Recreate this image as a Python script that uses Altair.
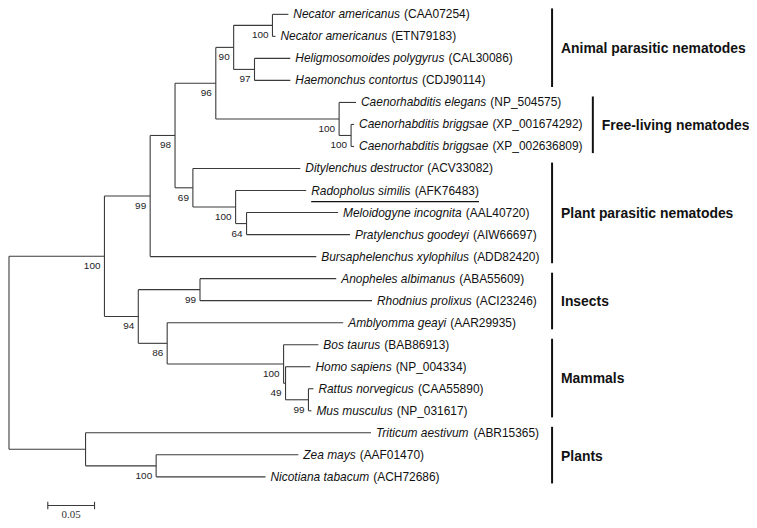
import altair as alt
import pandas as pd

# ---------------- data ----------------
# internal nodes of the tree (name, parent, branch length, bootstrap support)
node_name = ["root", "A", "S", "B", "C", "D", "E", "F", "G", "H", "I",
             "J", "K", "L", "M", "N", "O", "P", "Q", "R", "T"]
node_parent = [None, "root", "root", "A", "A", "B", "D", "D", "E", "E", "G",
               "G", "H", "F", "L", "C", "C", "O", "P", "Q", "S"]
node_length = [0.0, 0.1106, 0.0904, 0.0489, 0.0362, 0.0266, 0.0436, 0.0191,
               0.0191, 0.1319, 0.0415, 0.0223, 0.0128, 0.0457, 0.0117, 0.0660,
               0.0309, 0.1245, 0.0021, 0.0245, 0.0755]
node_support = [None, 100, None, 99, 94, 98, 96, 69, 90, 100, 100,
                97, 100, 100, 64, 99, 86, 100, 49, 99, 100]

# leaves, top to bottom
leaf_species = ["Necator americanus", "Necator americanus", "Heligmosomoides polygyrus",
                "Haemonchus contortus", "Caenorhabditis elegans", "Caenorhabditis briggsae",
                "Caenorhabditis briggsae", "Ditylenchus destructor", "Radopholus similis",
                "Meloidogyne incognita", "Pratylenchus goodeyi", "Bursaphelenchus xylophilus",
                "Anopheles albimanus", "Rhodnius prolixus", "Amblyomma geayi", "Bos taurus",
                "Homo sapiens", "Rattus norvegicus", "Mus musculus", "Triticum aestivum",
                "Zea mays", "Nicotiana tabacum"]
leaf_accession = ["CAA07254", "ETN79183", "CAL30086", "CDJ90114", "NP_504575",
                  "XP_001674292", "XP_002636809", "ACV33082", "AFK76483", "AAL40720",
                  "AIW66697", "ADD82420", "ABA55609", "ACI23246", "AAR29935", "BAB86913",
                  "NP_004334", "CAA55890", "NP_031617", "ABR15365", "AAF01470", "ACH72686"]
leaf_parent = ["I", "I", "J", "J", "H", "K", "K", "F", "L", "M", "M", "B",
               "N", "N", "O", "P", "Q", "R", "R", "S", "T", "T"]
leaf_length = [0.0170, 0.0032, 0.0383, 0.0383, 0.0181, 0.0032, 0.0032, 0.1149,
               0.0755, 0.0979, 0.1106, 0.1777, 0.1457, 0.1840, 0.1883, 0.0372,
               0.0266, 0.0053, 0.0032, 0.3053, 0.1521, 0.1170]
underlined = ["AFK76483"]

group_names = ["Animal parasitic nematodes", "Free-living nematodes",
               "Plant parasitic nematodes", "Insects", "Mammals", "Plants"]
group_first = [0, 4, 7, 12, 15, 19]
group_last = [3, 6, 11, 14, 18, 21]

scale_bar_value = 0.05

# ---------------- layout helpers ----------------
W, H = 745, 512
PXU = 940.0                      # pixels per unit of branch length
X_DOMAIN = [8 / PXU, (W + 7) / PXU]
Y_RANGE = [5, 470]               # pixel positions of first and last leaf row
N = len(leaf_species)
group_bar_px = [555, 596, 555, 555, 555, 555]   # page x of bracket bars

LINE = "#3a3a3a"
FONT = "Liberation Sans"

ARIAL = {' ': 278, '(': 333, ')': 333, '_': 556, '\u00a0': 278}
for c in "0123456789":
    ARIAL[c] = 556
ARIAL.update(dict(zip("ABCDEFGHIJKLMNOPQRSTUVWXYZ",
                      [667, 667, 722, 722, 667, 611, 778, 722, 278, 500, 667, 556, 833,
                       722, 778, 667, 778, 722, 667, 611, 722, 667, 944, 667, 667, 611])))
ARIAL.update(dict(zip("abcdefghijklmnopqrstuvwxyz",
                      [556, 556, 500, 556, 556, 278, 556, 556, 222, 222, 500, 222, 833,
                       556, 556, 556, 556, 333, 500, 278, 556, 500, 722, 500, 500, 500])))


def tw(s, size):
    return sum(ARIAL.get(ch, 556) for ch in s) * size / 1000.0


# build tree
parent_of = dict(zip(node_name, node_parent))
length_of = dict(zip(node_name, node_length))
children = {n: [] for n in node_name}
for n, p in zip(node_name, node_parent):
    if p is not None:
        children[p].append(("node", n))
for i, p in enumerate(leaf_parent):
    children[p].append(("leaf", i))

xpos = {}


def node_x(n):
    if n not in xpos:
        p = parent_of[n]
        xpos[n] = 0.0 if p is None else node_x(p) + length_of[n]
    return xpos[n]


ypos = {}


def child_y(c):
    kind, v = c
    return float(v) if kind == "leaf" else node_y(v)


def node_y(n):
    if n not in ypos:
        ys = [child_y(c) for c in children[n]]
        ypos[n] = (min(ys) + max(ys)) / 2
    return ypos[n]


for n in node_name:
    node_x(n)
    node_y(n)

h_rows, v_rows, bs_rows = [], [], []
for n in node_name:
    p = parent_of[n]
    if p is not None:
        h_rows.append(dict(x=xpos[p], x2=xpos[n], y=ypos[n]))
    ys = [child_y(c) for c in children[n]]
    v_rows.append(dict(x=xpos[n], y=min(ys), y2=max(ys)))
for n, s in zip(node_name, node_support):
    if s is not None:
        bs_rows.append(dict(x=xpos[n], y=ypos[n], t=str(s)))

leaf_rows = []
for i in range(N):
    px = xpos[leaf_parent[i]]
    tip = px + leaf_length[i]
    h_rows.append(dict(x=px, x2=tip, y=float(i)))
    sp_w = tw(leaf_species[i], 12)
    acc = "(" + leaf_accession[i] + ")"
    acc_x = tip + (sp_w + 4) / PXU
    acc_end = acc_x + tw(acc, 12) / PXU
    leaf_rows.append(dict(x=tip, y=float(i), sp=leaf_species[i], ax=acc_x, acc=acc,
                          ul=leaf_accession[i] in underlined,
                          u1=tip + 5 / PXU, u2=acc_end + 5 / PXU))

h_df = pd.DataFrame(h_rows)
v_df = pd.DataFrame(v_rows)
bs_df = pd.DataFrame(bs_rows)
leaf_df = pd.DataFrame(leaf_rows)
ul_df = leaf_df[leaf_df.ul].assign(uy=lambda d: d.y + 0.5)

grp_df = pd.DataFrame(dict(
    name=group_names,
    x=[(b - 1) / PXU for b in group_bar_px],
    y=[f - 0.27 for f in group_first],
    y2=[l + 0.3 for l in group_last],
    ym=[(f + l) / 2 + 0.08 for f, l in zip(group_first, group_last)],
))

sb_y = N + 0.3
sb_df = pd.DataFrame(dict(x=[scale_bar_value], x2=[2 * scale_bar_value], y=[sb_y]))
sb_ticks = pd.DataFrame(dict(x=[scale_bar_value, 2 * scale_bar_value],
                             y=[sb_y - 0.17] * 2, y2=[sb_y + 0.17] * 2))
sb_lab = pd.DataFrame(dict(x=[1.5 * scale_bar_value], y=[sb_y + 0.45],
                           t=[f"{scale_bar_value:.2f}"]))

xs = alt.Scale(domain=X_DOMAIN, range=[1, W], clamp=True, nice=False, zero=False)
ys = alt.Scale(domain=[0, N - 1], range=Y_RANGE, nice=False, zero=False)


def X(f="x"):
    return alt.X(f"{f}:Q", scale=xs, axis=None)


def Y(f="y"):
    return alt.Y(f"{f}:Q", scale=ys, axis=None)


hl = alt.Chart(h_df).mark_rule(color=LINE, strokeWidth=1.1).encode(
    x=X(), x2="x2:Q", y=Y())
vl = alt.Chart(v_df).mark_rule(color=LINE, strokeWidth=1.1).encode(
    x=X(), y=Y(), y2="y2:Q")
sp = alt.Chart(leaf_df).mark_text(align="left", baseline="middle", dx=5, font=FONT,
                                  fontSize=12, fontStyle="italic", color="#111").encode(
    x=X(), y=Y(), text="sp:N")
ac = alt.Chart(leaf_df).mark_text(align="left", baseline="middle", dx=5, font=FONT,
                                  fontSize=12, color="#111").encode(
    x=X("ax"), y=Y(), text="acc:N")
ul = alt.Chart(ul_df).mark_rule(color="#111", strokeWidth=1.3).encode(
    x=X("u1"), x2="u2:Q", y=Y("uy"))
bs = alt.Chart(bs_df).mark_text(align="right", baseline="middle", dx=-4, dy=10, font=FONT,
                                fontSize=10, color="#222").encode(
    x=X(), y=Y(), text="t:N")
gb = alt.Chart(grp_df).mark_rule(color="#111", strokeWidth=2).encode(
    x=X(), y=Y(), y2="y2:Q")
gl = alt.Chart(grp_df).mark_text(align="left", baseline="middle", dx=9, font=FONT,
                                 fontSize=14, fontWeight="bold", color="#111").encode(
    x=X(), y=Y("ym"), text="name:N")
sb = alt.Chart(sb_df).mark_rule(color=LINE, strokeWidth=1.1).encode(
    x=X(), x2="x2:Q", y=Y())
sbt = alt.Chart(sb_ticks).mark_rule(color=LINE, strokeWidth=1.1).encode(
    x=X(), y=Y(), y2="y2:Q")
sbl = alt.Chart(sb_lab).mark_text(align="center", baseline="middle", font="Liberation Serif",
                                  fontSize=11, color="#333").encode(
    x=X(), y=Y(), text="t:N")

chart = alt.layer(hl, vl, ul, sp, ac, bs, gb, gl, sb, sbt, sbl).properties(
    width=W, height=H, padding=0, autosize=alt.AutoSizeParams(type="none")
).configure_view(stroke=None)

chart.save("out.html", embed_options={"renderer": "svg", "actions": False})
